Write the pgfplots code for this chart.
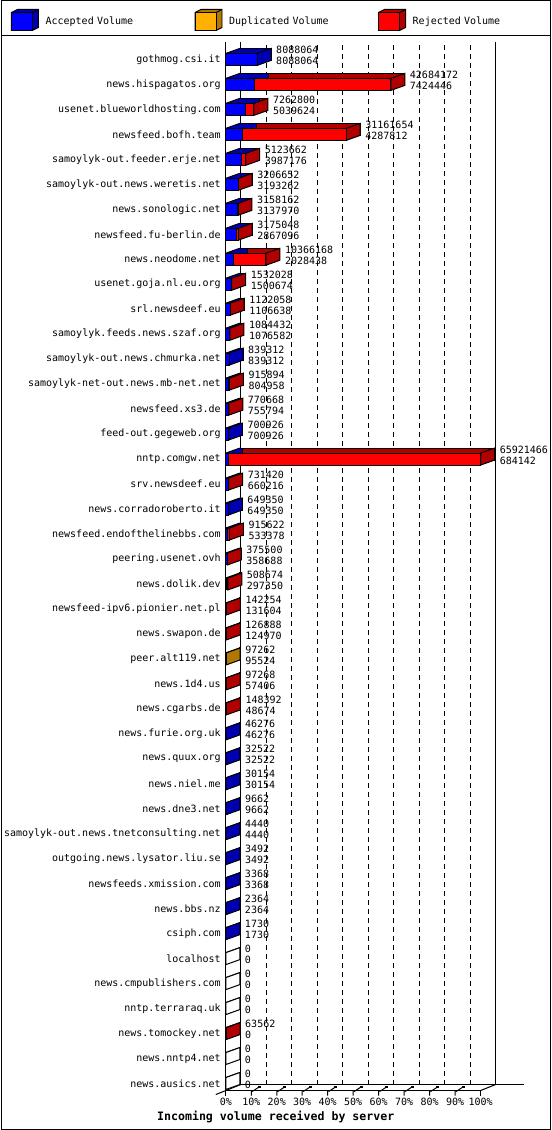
\documentclass[border=0pt]{standalone}
\usepackage{pgfplots}
\usepackage{pgfplotstable}
\pgfplotsset{compat=1.18}
\usepackage{fontspec}
\setmainfont{DejaVu Sans Mono}

\definecolor{accF}{HTML}{0000FF}
\definecolor{accD}{HTML}{0000B0}
\definecolor{dupF}{HTML}{FFB000}
\definecolor{dupD}{HTML}{B07800}
\definecolor{rejF}{HTML}{FF0000}
\definecolor{rejD}{HTML}{B00000}

% side face of a 3D bar, at the end of the bar
\pgfdeclareplotmark{sideface}{%
  \pgfpathmoveto{\pgfpoint{0pt}{-6pt}}%
  \pgfpathlineto{\pgfpoint{14pt}{-1pt}}%
  \pgfpathlineto{\pgfpoint{14pt}{11pt}}%
  \pgfpathlineto{\pgfpoint{0pt}{6pt}}%
  \pgfpathclose
  \pgfusepathqfillstroke}
% same shape at the start of the bar, only the top edge stroked
\pgfdeclareplotmark{startface}{%
  \pgfpathmoveto{\pgfpoint{0pt}{-6pt}}%
  \pgfpathlineto{\pgfpoint{14pt}{-1pt}}%
  \pgfpathlineto{\pgfpoint{14pt}{11pt}}%
  \pgfpathlineto{\pgfpoint{0pt}{6pt}}%
  \pgfpathclose
  \pgfusepathqfill
  \pgfpathmoveto{\pgfpoint{0pt}{6pt}}%
  \pgfpathlineto{\pgfpoint{14pt}{11pt}}%
  \pgfusepathqstroke}
\pgfdeclareplotmark{floortick}{%
  \pgfpathmoveto{\pgfpoint{0pt}{0pt}}\pgfpathlineto{\pgfpoint{0pt}{-5pt}}%
  \pgfpathmoveto{\pgfpoint{1pt}{-1pt}}\pgfpathlineto{\pgfpoint{7pt}{3pt}}%
  \pgfusepathqstroke
  \pgfpathrectangle{\pgfpoint{6.5pt}{2.5pt}}{\pgfpoint{3pt}{2.5pt}}%
  \pgfusepathqfill}
\pgfdeclareplotmark{endtick}{%
  \pgfpathmoveto{\pgfpoint{0pt}{0pt}}\pgfpathlineto{\pgfpoint{0pt}{-5pt}}%
  \pgfusepathqstroke}
\pgfdeclareplotmark{nothing}{}

\newcommand\legendicon[2]{%
  \filldraw[fill=#2,draw=black,line width=1pt] (0pt,-9pt) -- (21pt,-9pt) -- (27pt,-6pt)
     -- (27pt,12pt) -- (6pt,12pt) -- (0pt,9pt) -- cycle;
  \filldraw[fill=#1,draw=black,line width=1pt] (0pt,-9pt) rectangle (21pt,9pt);
  \draw[line width=1pt] (21pt,9pt) -- (27pt,12pt);
  \path (34pt,0pt);}

% y = row from the bottom; acc/dup/rej in bytes; first/last = colour class of end faces
\pgfplotstableread{
y  name                                 acc      dup   rej       total     first last
0  news.ausics.net                      0        0     0         0         z     z
1  news.nntp4.net                       0        0     0         0         z     z
2  news.tomockey.net                    0        0     63562     63562     r     r
3  nntp.terraraq.uk                     0        0     0         0         z     z
4  news.cmpublishers.com                0        0     0         0         z     z
5  localhost                            0        0     0         0         z     z
6  csiph.com                            1730     0     0         1730      a     a
7  news.bbs.nz                          2364     0     0         2364      a     a
8  newsfeeds.xmission.com               3368     0     0         3368      a     a
9  outgoing.news.lysator.liu.se         3492     0     0         3492      a     a
10 samoylyk-out.news.tnetconsulting.net 4440     0     0         4440      a     a
11 news.dne3.net                        9662     0     0         9662      a     a
12 news.niel.me                         30154    0     0         30154     a     a
13 news.quux.org                        32522    0     0         32522     a     a
14 news.furie.org.uk                    46276    0     0         46276     a     a
15 news.cgarbs.de                       48674    0     99718     148392    a     r
16 news.1d4.us                          57406    0     39862     97268     a     r
17 peer.alt119.net                      95524    1738  0         97262     a     d
18 news.swapon.de                       124970   0     1918      126888    a     r
19 newsfeed-ipv6.pionier.net.pl         131604   0     10650     142254    a     r
20 news.dolik.dev                       297350   0     211324    508674    a     r
21 peering.usenet.ovh                   358688   0     16812     375500    a     r
22 newsfeed.endofthelinebbs.com         533378   0     382244    915622    a     r
23 news.corradoroberto.it               649350   0     0         649350    a     a
24 srv.newsdeef.eu                      660216   0     71204     731420    a     r
25 nntp.comgw.net                       684142   0     65237324  65921466  a     r
26 feed-out.gegeweb.org                 700926   0     0         700926    a     a
27 newsfeed.xs3.de                      755794   0     14874     770668    a     r
28 samoylyk-net-out.news.mb-net.net     804958   0     110936    915894    a     r
29 samoylyk-out.news.chmurka.net        839312   0     0         839312    a     a
30 samoylyk.feeds.news.szaf.org         1076582  0     7850      1084432   a     r
31 srl.newsdeef.eu                      1106638  0     15420     1122058   a     r
32 usenet.goja.nl.eu.org                1500674  0     31354     1532028   a     r
33 news.neodome.net                     2028438  0     8337730   10366168  a     r
34 newsfeed.fu-berlin.de                2867096  0     307952    3175048   a     r
35 news.sonologic.net                   3137970  0     20192     3158162   a     r
36 samoylyk-out.news.weretis.net        3193262  0     13390     3206652   a     r
37 samoylyk-out.feeder.erje.net         3987176  0     1136486   5123662   a     r
38 newsfeed.bofh.team                   4287812  0     26873842  31161654  a     r
39 usenet.blueworldhosting.com          5039624  0     2223176   7262800   a     r
40 news.hispagatos.org                  7424446  0     35259726  42684172  a     r
41 gothmog.csi.it                       8088064  0     0         8088064   a     a
}\servers

\pgfplotsset{
  every axis/.append style={font=\fontsize{10}{12}\selectfont},
  plane/.style={scale only axis, anchor=south west, width=255pt, height=1049pt,
    xmin=0, xmax=65921466, ymin=-0.28, ymax=41.68, enlargelimits=false, clip=false,
    scaled x ticks=false, scaled y ticks=false},
}

\begin{document}
\begin{tikzpicture}

% frame, legend, title
\begin{axis}[
  at={(0pt,0pt)}, anchor=south west, scale only axis,
  width=550pt, height=1130pt,
  xmin=0, xmax=550, ymin=0, ymax=1130,
  axis line style={line width=1pt},
  xtick=\empty, ytick=\empty,
  tick label style={inner sep=0pt, outer sep=0pt},
  extra y ticks={1095}, extra y tick labels={},
  extra y tick style={grid=major, major tick length=0pt,
    major grid style={black, line width=1.3pt}},
  xlabel={Incoming volume received by server},
  xlabel style={at={(axis description cs:0.5,0.0115)}, anchor=center, inner sep=0pt,
    font=\bfseries\fontsize{11.6}{14}\selectfont},
  legend columns=3,
  legend style={draw=none, fill=none, inner sep=0pt, outer sep=0pt,
    at={(axis description cs:0.01818,0.98274)}, anchor=west,
    nodes={inner sep=0pt, text width=100pt, align=left, font=\fontsize{10}{12}\selectfont},
    /tikz/every odd column/.append style={column sep=0pt},
    /tikz/every even column/.append style={column sep=49pt}},
]
\addlegendimage{legend image code/.code={\legendicon{accF}{accD}}}
\addlegendentry{Accepted Volume}
\addlegendimage{legend image code/.code={\legendicon{dupF}{dupD}}}
\addlegendentry{Duplicated Volume}
\addlegendimage{legend image code/.code={\legendicon{rejF}{rejD}}}
\addlegendentry{Rejected Volume}
\end{axis}

% back wall with the grid
\begin{axis}[
  at={(240pt,45pt)}, anchor=south west, scale only axis,
  width=255pt, height=1043pt,
  xmin=0, xmax=65921466, ymin=0, ymax=1, clip=false,
  scaled x ticks=false,
  axis x line*=bottom, axis y line*=left,
  axis line style={-, line width=1pt},
  xtick={6592146.6,13184293.2,19776439.8,26368586.4,32960733,39552879.6,46145026.2,52737172.8,59329319.4},
  xticklabels={}, ytick=\empty, major tick length=0pt,
  tick label style={inner sep=0pt, outer sep=0pt},
  xmajorgrids, major grid style={black, line width=1pt, dash pattern=on 5pt off 4pt},
  extra x ticks={65921466}, extra x tick labels={},
  extra x tick style={grid=major, major grid style={black, line width=1pt, solid}},
]
\draw[line width=1pt] (axis cs:65921466,0) -- ++(28pt,0pt);
\end{axis}

% back faces of the bars
\begin{axis}[plane, at={(239pt,44pt)}, hide axis,
  xbar stacked, bar width=12pt, bar shift=0pt]
\addplot[fill=accD, draw=black, line width=1pt] table[x=acc, y=y]{\servers};
\addplot[fill=dupD, draw=black, line width=1pt] table[x=dup, y=y]{\servers};
\addplot[fill=rejD, draw=black, line width=1pt] table[x=rej, y=y]{\servers};
\end{axis}

% end faces, value labels, floor ticks
\begin{axis}[plane, at={(225pt,39pt)}, hide axis]
\addplot[scatter, only marks, line width=1pt, scatter src=explicit symbolic,
  scatter/classes={a={mark=startface, fill=accD, draw=black},
    d={mark=startface, fill=dupD, draw=black},
    r={mark=startface, fill=rejD, draw=black},
    z={mark=startface, fill=white, draw=black}}]
  table[x expr=0, y=y, meta=first]{\servers};
\addplot[scatter, only marks, line width=1pt, scatter src=explicit symbolic,
  scatter/classes={a={mark=sideface, fill=accD, draw=black},
    d={mark=sideface, fill=dupD, draw=black},
    r={mark=sideface, fill=rejD, draw=black},
    z={mark=sideface, fill=white, draw=black}}]
  table[x=total, y=y, meta=last]{\servers};
\addplot[only marks, mark=nothing, point meta=explicit symbolic, nodes near coords,
  nodes near coords style={anchor=west, inner sep=0pt, xshift=19pt, yshift=9.5pt, black,
    font=\fontsize{10}{12}\selectfont}]
  table[x=total, y=y, meta=total]{\servers};
\addplot[only marks, mark=nothing, point meta=explicit symbolic, nodes near coords,
  nodes near coords style={anchor=west, inner sep=0pt, xshift=19pt, yshift=-1.5pt, black,
    font=\fontsize{10}{12}\selectfont}]
  table[x=total, y=y, meta=acc]{\servers};
\addplot[only marks, mark=floortick, black, line width=1pt] coordinates {
  (6592146.6,-0.28) (13184293.2,-0.28) (19776439.8,-0.28) (26368586.4,-0.28)
  (32960733,-0.28) (39552879.6,-0.28) (46145026.2,-0.28) (52737172.8,-0.28)
  (59329319.4,-0.28)};
\addplot[only marks, mark=endtick, black, line width=1pt] coordinates {
  (0,-0.28) (65921466,-0.28)};
\draw[line width=1pt] (axis cs:0,-0.28) ++(-10pt,-4pt) -- ++(25pt,10pt);
\draw[line width=1pt] (axis cs:65921466,-0.28) -- ++(15pt,6pt);
\end{axis}

% front faces, front axis and labels
\begin{axis}[plane, at={(225pt,39pt)},
  axis x line*=bottom, axis y line*=left,
  axis line style={-, line width=1pt},
  xbar stacked, bar width=12pt, bar shift=0pt,
  /pgf/number format/assume math mode=true,
  xtick={0,6592146.6,13184293.2,19776439.8,26368586.4,32960733,39552879.6,46145026.2,52737172.8,59329319.4,65921466},
  xticklabels={0\%,10\%,20\%,30\%,40\%,50\%,60\%,70\%,80\%,90\%,100\%},
  ytick={0,...,41},
  yticklabels from table={\servers}{name},
  major tick length=0pt,
  xticklabel style={anchor=base, inner sep=0pt, yshift=-14.5pt},
  yticklabel style={anchor=east, inner sep=0pt, xshift=-5pt},
]
\addplot[fill=accF, draw=black, line width=1pt] table[x=acc, y=y]{\servers};
\addplot[fill=dupF, draw=black, line width=1pt] table[x=dup, y=y]{\servers};
\addplot[fill=rejF, draw=black, line width=1pt] table[x=rej, y=y]{\servers};
\end{axis}

\end{tikzpicture}
\end{document}
